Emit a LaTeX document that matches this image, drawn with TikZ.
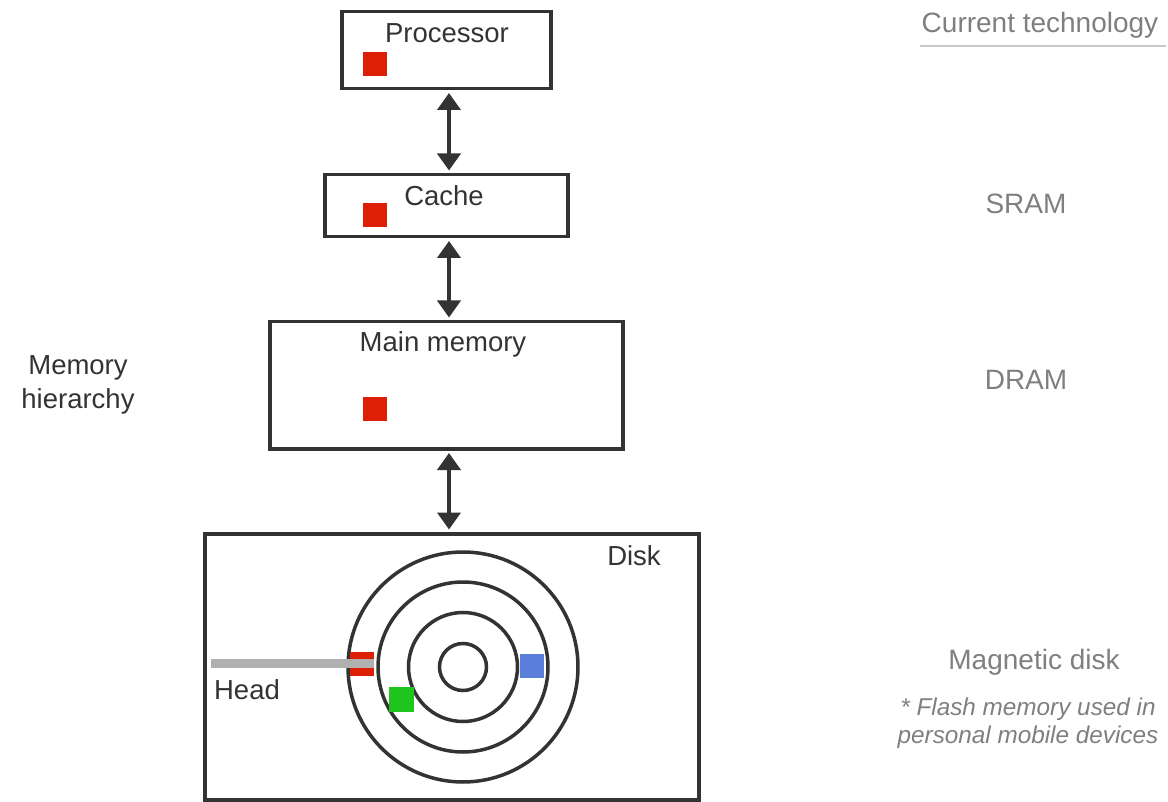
\documentclass[tikz,border=0pt]{standalone}
\usepackage{fontspec}
\setmainfont{Liberation Sans}
\usetikzlibrary{arrows.meta}
\definecolor{ink}{HTML}{333333}
\definecolor{note}{HTML}{7F7F7F}
\definecolor{rule}{HTML}{C8C8C8}
\definecolor{blockred}{HTML}{DD1F05}
\definecolor{blockblue}{HTML}{5A80DB}
\definecolor{blockgreen}{HTML}{1FC41F}
\definecolor{headgray}{HTML}{B0B0B0}
\begin{document}
\begin{tikzpicture}[x=1pt,y=-1pt,
  unit/.style={draw=ink,line width=3.5pt,rectangle,inner sep=0pt,anchor=north west},
  lbl/.style={text=ink,font=\fontsize{27.5}{34}\selectfont,inner sep=0pt},
  tech/.style={text=note,font=\fontsize{28}{34}\selectfont,inner sep=0pt},
  remark/.style={text=note,font=\fontsize{24.3}{28}\selectfont\itshape,inner sep=0pt,align=center},
  block/.style={rectangle,inner sep=0pt,minimum size=24pt,anchor=north west},
  link/.style={draw=ink,line width=4pt,{Triangle[width=23pt,length=17pt]}-{Triangle[width=23pt,length=17pt]},shorten <=2.5pt,shorten >=2.5pt},
  track/.style={draw=ink,line width=3.5pt,circle,inner sep=0pt}]
\useasboundingbox (0,0) rectangle (1168,802);

% hierarchy levels
\node[unit,minimum width=209pt,minimum height=77pt] (proc) at (340,10) {};
\node[unit,minimum width=243pt,minimum height=62pt] (cache) at (323,173) {};
\node[unit,minimum width=353pt,minimum height=127pt] (mem) at (268,320) {};
\node[unit,minimum width=494pt,minimum height=266pt] (disk) at (203,532) {};

\node[lbl] (tproc) at (447,33) {Processor};
\node[lbl] (tcache) at (444,196) {Cache};
\node[lbl] (tmem) at (443,344) {Main memory};
\node[lbl] (tdisk) at (634,556) {Disk};

% data blocks
\node[block,fill=blockred] (bproc) at (363,52) {};
\node[block,fill=blockred] (bcache) at (363,203) {};
\node[block,fill=blockred] (bmem) at (363,397) {};

% transfers between levels
\coordinate (ax) at (449,0);
\draw[link] (proc.south -| ax) -- (cache.north -| ax);
\draw[link] (cache.south -| ax) -- (mem.north -| ax);
\draw[link] (mem.south -| ax) -- (disk.north -| ax);

% platter tracks
\coordinate (hub) at (463,667);
\node[track,minimum size=230pt] (t1) at (hub) {};
\node[track,minimum size=170pt] (t2) at (hub) {};
\node[track,minimum size=109pt] (t3) at (hub) {};
\node[track,minimum size=47pt] (t4) at (hub) {};

% head and sectors
\node[block,fill=blockred] (bhead) at (350,652) {};
\fill[headgray] (211,659) rectangle (374,668);
\node[block,fill=blockblue] (bblue) at (520,654) {};
\node[block,fill=blockgreen,minimum size=25pt] (bgreen) at (389,687) {};
\node[lbl] (thead) at (247,690) {Head};

% side labels
\node[lbl,align=center] (hier) at (78,385) {Memory\\hierarchy};
\node[tech] (tcur) at (1040,25) {Current technology};
\draw[rule,line width=1.5pt] (920,46) -- (1166,46);
\node[tech] (tsram) at (1026,204) {SRAM};
\node[tech] (tdram) at (1026,380) {DRAM};
\node[tech] (tmag) at (1034,662) {Magnetic disk};
\node[remark] (tflash) at (1028,723) {* Flash memory used in\\personal mobile devices};
\end{tikzpicture}
\end{document}
